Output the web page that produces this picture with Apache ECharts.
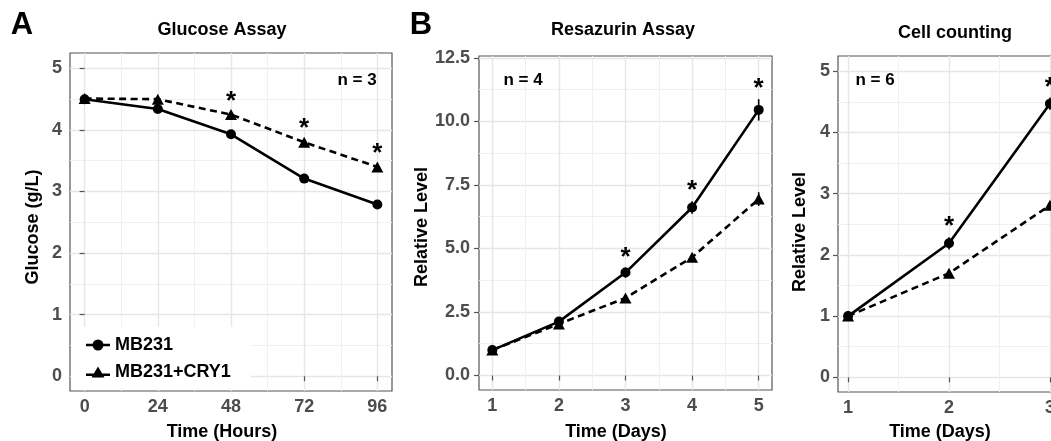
<!DOCTYPE html>
<html>
<head>
<meta charset="utf-8">
<script src="https://cdn.jsdelivr.net/npm/echarts@6/dist/echarts.min.js"></script>
<style>
html,body{margin:0;padding:0;background:#fff;overflow:hidden;}
#chart{width:1080px;height:441px;}
</style>
</head>
<body>
<div id="chart"></div>
<script>
// ---------- DATA ----------
const seriesNames = ['MB231', 'MB231+CRY1'];

// Panel A: Glucose Assay
const glucoseHours = [0, 24, 48, 72, 96];
const glucoseMB231 = [4.50, 4.34, 3.93, 3.21, 2.79];
const glucoseCRY1 = [4.51, 4.50, 4.25, 3.80, 3.40];
const glucoseMB231Err = [0.02, 0.03, 0.03, 0.03, 0.03];
const glucoseCRY1Err = [0.02, 0.03, 0.05, 0.05, 0.05];
const glucoseSig = [0, 0, 1, 1, 1];          // stars drawn over MB231+CRY1
const glucoseXTicks = [0, 24, 48, 72, 96];
const glucoseYTicks = [0, 1, 2, 3, 4, 5];

// Panel B: Resazurin Assay
const resaDays = [1, 2, 3, 4, 5];
const resaMB231 = [1.00, 2.12, 4.05, 6.61, 10.45];
const resaCRY1 = [1.00, 2.03, 3.05, 4.65, 6.94];
const resaMB231Err = [0.03, 0.08, 0.20, 0.25, 0.42];
const resaCRY1Err = [0.03, 0.06, 0.10, 0.15, 0.27];
const resaSig = [0, 0, 1, 1, 1];             // stars drawn over MB231
const resaXTicks = [1, 2, 3, 4, 5];
const resaYTicks = [0, 2.5, 5, 7.5, 10, 12.5];

// Panel C: Cell counting
const cellDays = [1, 2, 3];
const cellMB231 = [1.00, 2.19, 4.47];
const cellCRY1 = [1.00, 1.70, 2.81];
const cellMB231Err = [0.02, 0.10, 0.10];
const cellCRY1Err = [0.02, 0.05, 0.06];
const cellSig = [0, 1, 1];                   // stars drawn over MB231
const cellXTicks = [1, 2, 3];
const cellYTicks = [0, 1, 2, 3, 4, 5];

// ---------- STYLE ----------
const FONT = '"Liberation Sans", Arial, Helvetica, sans-serif';
const TICK_COL = '#4d4d4d';
const BORDER_COL = '#555555';
const MAJOR_GRID = '#e6e6e6';
const MINOR_GRID = '#f0f0f0';
const STAR_OFFSET = 10;
const ICON_CIRCLE = 'path://M0,4.2 L24,4.2 L24,6.8 L0,6.8 Z M6.5,5.5 A5.5,5.5 0 1,1 17.5,5.5 A5.5,5.5 0 1,1 6.5,5.5 Z';
const ICON_TRIANGLE = 'path://M0,7 L24,7 L24,9.6 L0,9.6 Z M12,0 L18.5,11 L5.5,11 Z';

function mids(arr) {
  const out = [];
  for (let i = 0; i < arr.length - 1; i++) out.push((arr[i] + arr[i + 1]) / 2);
  return out;
}

const panels = [
  { grid: { left: 70, top: 53, width: 322, height: 338 },
    xr: [-4.8, 100.8], yr: [-0.24, 5.25],
    xt: glucoseXTicks, yt: glucoseYTicks, xminor: mids(glucoseXTicks), yminor: mids(glucoseYTicks),
    yfmt: v => String(v), labelMarginY: 8,
    x: glucoseHours, a: glucoseMB231, b: glucoseCRY1, ae: glucoseMB231Err, be: glucoseCRY1Err,
    sig: glucoseSig, sigOn: 'b' },
  { grid: { left: 479, top: 56, width: 293, height: 334 },
    xr: [0.8, 5.2], yr: [-0.57, 12.57],
    xt: resaXTicks, yt: resaYTicks, xminor: mids(resaXTicks), yminor: mids(resaYTicks),
    yfmt: v => v.toFixed(1), labelMarginY: 9,
    x: resaDays, a: resaMB231, b: resaCRY1, ae: resaMB231Err, be: resaCRY1Err,
    sig: resaSig, sigOn: 'a' },
  { grid: { left: 838, top: 56, width: 222, height: 336 },
    xr: [0.9, 3.1], yr: [-0.24, 5.25],
    xt: cellXTicks, yt: cellYTicks, xminor: mids(cellXTicks), yminor: mids(cellYTicks),
    yfmt: v => String(v), labelMarginY: 8,
    x: cellDays, a: cellMB231, b: cellCRY1, ae: cellMB231Err, be: cellCRY1Err,
    sig: cellSig, sigOn: 'a' }
];

const grids = [], xAxes = [], yAxes = [], series = [];

panels.forEach((p, i) => {
  grids.push(Object.assign({ show: true, borderColor: BORDER_COL, borderWidth: 1.2, backgroundColor: '#fff', containLabel: false }, p.grid));
  xAxes.push({
    type: 'value', gridIndex: i, min: p.xr[0], max: p.xr[1], position: 'bottom',
    axisLine: { show: false },
    axisTick: { show: true, length: 5, customValues: p.xt, lineStyle: { color: BORDER_COL, width: 1.2 } },
    axisLabel: { show: true, customValues: p.xt, margin: 7, color: TICK_COL, fontFamily: FONT, fontWeight: 'bold', fontSize: 18 },
    splitLine: { show: true, lineStyle: { color: MAJOR_GRID, width: 1.4 } }
  });
  xAxes.push({
    type: 'value', gridIndex: i, min: p.xr[0], max: p.xr[1], position: 'bottom',
    axisLine: { show: false },
    axisTick: { show: false, customValues: p.xminor },
    axisLabel: { show: false, customValues: p.xminor },
    splitLine: { show: true, lineStyle: { color: MINOR_GRID, width: 1 } }
  });
  yAxes.push({
    type: 'value', gridIndex: i, min: p.yr[0], max: p.yr[1], position: 'left',
    axisLine: { show: false },
    axisTick: { show: true, length: 5, customValues: p.yt, lineStyle: { color: BORDER_COL, width: 1.2 } },
    axisLabel: { show: true, customValues: p.yt, margin: p.labelMarginY, formatter: p.yfmt, color: TICK_COL, fontFamily: FONT, fontWeight: 'bold', fontSize: 18 },
    splitLine: { show: true, lineStyle: { color: MAJOR_GRID, width: 1.4 } }
  });
  yAxes.push({
    type: 'value', gridIndex: i, min: p.yr[0], max: p.yr[1], position: 'left',
    axisLine: { show: false },
    axisTick: { show: false, customValues: p.yminor },
    axisLabel: { show: false, customValues: p.yminor },
    splitLine: { show: true, lineStyle: { color: MINOR_GRID, width: 1 } }
  });

  const xi = 2 * i, yi = 2 * i;
  const errData = [];
  p.x.forEach((xv, k) => {
    errData.push([xv, p.a[k], p.ae[k], p.sigOn === 'a' ? p.sig[k] : 0]);
    errData.push([xv, p.b[k], p.be[k], p.sigOn === 'b' ? p.sig[k] : 0]);
  });
  series.push({
    type: 'custom', xAxisIndex: xi, yAxisIndex: yi, z: 1, silent: true,
    data: errData,
    renderItem: function (params, api) {
      const xv = api.value(0), yv = api.value(1), e = api.value(2), s = api.value(3);
      const top = api.coord([xv, yv + e]);
      const bot = api.coord([xv, yv - e]);
      const children = [{
        type: 'line',
        shape: { x1: top[0], y1: top[1], x2: bot[0], y2: bot[1] },
        style: { stroke: '#000', lineWidth: 1.6 }
      }];
      if (s) {
        children.push({
          type: 'text',
          style: { text: '*', x: top[0], y: top[1] - STAR_OFFSET, textAlign: 'center', textVerticalAlign: 'middle',
                   font: 'bold 26px ' + FONT, fill: '#000' }
        });
      }
      return { type: 'group', children: children };
    }
  });
  series.push({
    name: seriesNames[0], type: 'line', xAxisIndex: xi, yAxisIndex: yi, z: 3,
    data: p.x.map((xv, k) => [xv, p.a[k]]),
    symbol: 'circle', symbolSize: 10, showAllSymbol: true,
    lineStyle: { color: '#000', width: 2.6, type: 'solid' },
    itemStyle: { color: '#000' }
  });
  series.push({
    name: seriesNames[1], type: 'line', xAxisIndex: xi, yAxisIndex: yi, z: 2,
    data: p.x.map((xv, k) => [xv, p.b[k]]),
    symbol: 'triangle', symbolSize: [12, 11], showAllSymbol: true,
    lineStyle: { color: '#000', width: 2.6, type: [7, 4.5] },
    itemStyle: { color: '#000' }
  });
});

function txt(text, x, y, size, opts) {
  return Object.assign({
    type: 'text', z: 100,
    style: { text: text, x: x, y: y, textAlign: 'center', textVerticalAlign: 'middle',
             font: 'bold ' + size + 'px ' + FONT, fill: '#000' }
  }, opts || {});
}
function vtxt(text, x, y, size) {
  return { type: 'text', z: 100, x: x, y: y, rotation: Math.PI / 2,
    style: { text: text, x: 0, y: 0, textAlign: 'center', textVerticalAlign: 'middle', font: 'bold ' + size + 'px ' + FONT, fill: '#000' } };
}

const graphics = [
  txt('A', 22, 25, 31),
  txt('B', 421, 25, 31),
  txt('Glucose Assay', 222, 30, 18),
  txt('Resazurin Assay', 623, 30, 18),
  txt('Cell counting', 955, 33, 18),
  txt('n = 3', 357, 80, 17),
  txt('n = 4', 523, 80, 17),
  txt('n = 6', 875, 80, 17),
  txt('Time (Hours)', 222, 432, 18),
  txt('Time (Days)', 616, 432, 18),
  txt('Time (Days)', 940, 432, 18),
  vtxt('Glucose (g/L)', 33, 227, 18),
  vtxt('Relative Level', 422, 227, 18),
  vtxt('Relative Level', 800, 232, 18)
];

const chart = echarts.init(document.getElementById('chart'), null, { renderer: 'canvas' });
chart.setOption({
  animation: false,
  backgroundColor: '#fff',
  grid: grids,
  xAxis: xAxes,
  yAxis: yAxes,
  legend: {
    data: [
      { name: seriesNames[0], icon: ICON_CIRCLE },
      { name: seriesNames[1], icon: ICON_TRIANGLE }
    ],
    orient: 'vertical', left: 71, top: 327,
    backgroundColor: '#fff', padding: [8, 20, 8, 15], itemGap: 7,
    itemWidth: 24, itemHeight: 11, selectedMode: false,
    itemStyle: { color: '#000', borderWidth: 0 },
    textStyle: { color: '#000', fontFamily: FONT, fontWeight: 'bold', fontSize: 18, lineHeight: 20 }
  },
  graphic: graphics,
  series: series
});
</script>
</body>
</html>
